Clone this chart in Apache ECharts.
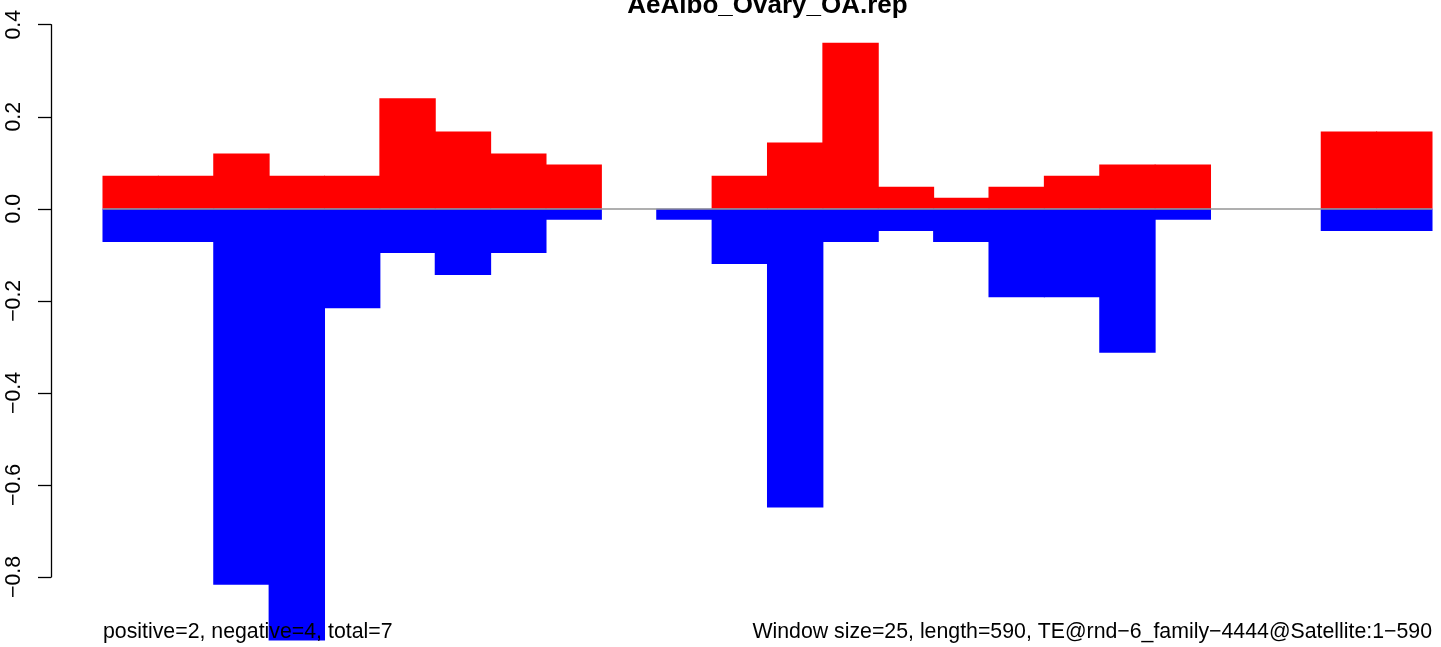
<!DOCTYPE html>
<html>
<head>
<meta charset="utf-8">
<script src="https://cdn.jsdelivr.net/npm/echarts@6/dist/echarts.min.js"></script>
<style>
  html, body { margin: 0; padding: 0; background: #ffffff; }
  #chart { width: 1441px; height: 647px; }
</style>
</head>
<body>
<div id="chart"></div>
<script>
// ---- data ----
const windows = ['1','2','3','4','5','6','7','8','9','10','11','12','13','14','15','16','17','18','19','20','21','22','23','24'];
const positiveValues = [0.072,0.072,0.120,0.072,0.072,0.240,0.168,0.120,0.096,0,0,0.072,0.144,0.361,0.048,0.024,0.048,0.072,0.096,0.096,0,0,0.168,0.168];
const negativeValues = [-0.072,-0.072,-0.817,-0.938,-0.216,-0.096,-0.144,-0.096,-0.024,0,-0.024,-0.120,-0.649,-0.072,-0.048,-0.072,-0.192,-0.192,-0.313,-0.024,0,0,-0.048,-0.048];
const yTickValues = [-0.8,-0.6,-0.4,-0.2,0.0,0.2,0.4];
const yTickLabels = ['\u22120.8','\u22120.6','\u22120.4','\u22120.2','0.0','0.2','0.4'];
const titleText = 'AeAlbo_Ovary_OA.rep';
const leftNote = 'positive=2, negative=4, total=7';
const rightNote = 'Window size=25, length=590, TE@rnd\u22126_family\u22124444@Satellite:1\u2212590';

const FONT = "'Liberation Sans', Arial, Helvetica, sans-serif";
const chart = echarts.init(document.getElementById('chart'), null, { renderer: 'canvas' });

function tickLabel(v) {
  for (let i = 0; i < yTickValues.length; i++) {
    if (Math.abs(yTickValues[i] - v) < 1e-6) return yTickLabels[i];
  }
  return '';
}

// empty windows draw no bar at all
const toBarData = arr => arr.map(v => (v === 0 ? null : v));

chart.setOption({
  animation: false,
  backgroundColor: '#ffffff',
  grid: { left: 103, right: 9, top: 24.7, bottom: 70, containLabel: false },
  xAxis: {
    type: 'category',
    data: windows,
    show: false,
    boundaryGap: true
  },
  yAxis: {
    type: 'value',
    min: -0.8,
    max: 0.4,
    interval: 0.2,
    offset: 52,
    splitLine: { show: false },
    axisLine: { show: true, onZero: false, lineStyle: { color: '#000000', width: 1.3 } },
    axisTick: { show: true, inside: false, length: 13, lineStyle: { color: '#000000', width: 1.3 } },
    axisLabel: {
      show: true,
      rotate: 90,
      margin: 26,
      showMinLabel: true,
      showMaxLabel: true,
      color: '#000000',
      fontFamily: FONT,
      fontSize: 21.3,
      formatter: tickLabel
    }
  },
  series: [
    {
      name: 'zero',
      type: 'line',
      data: [],
      z: 1,
      silent: true,
      markLine: {
        silent: true,
        symbol: ['none', 'none'],
        label: { show: false },
        lineStyle: { color: '#949494', width: 1.5, type: 'solid' },
        data: [{ yAxis: 0 }]
      }
    },
    {
      name: 'positive',
      type: 'bar',
      data: toBarData(positiveValues),
      barWidth: 56.4,
      barGap: '-100%',
      barCategoryGap: 0,
      clip: false,
      itemStyle: { color: '#ff0000' },
      z: 3,
      silent: true
    },
    {
      name: 'negative',
      type: 'bar',
      data: toBarData(negativeValues),
      barWidth: 56.4,
      barGap: '-100%',
      barCategoryGap: 0,
      clip: false,
      itemStyle: { color: '#0000ff' },
      z: 3,
      silent: true
    }
  ],
  graphic: [
    {
      type: 'text',
      z: 100,
      style: {
        text: titleText,
        x: 767.5,
        y: 5.7,
        textAlign: 'center',
        textVerticalAlign: 'middle',
        font: "bold 26px " + FONT,
        fill: '#000000'
      }
    },
    {
      type: 'text',
      z: 100,
      style: {
        text: leftNote,
        x: 103,
        y: 632.5,
        textAlign: 'left',
        textVerticalAlign: 'middle',
        font: "21.3px " + FONT,
        fill: '#000000'
      }
    },
    {
      type: 'text',
      z: 100,
      style: {
        text: rightNote,
        x: 1432,
        y: 632.5,
        textAlign: 'right',
        textVerticalAlign: 'middle',
        font: "21.3px " + FONT,
        fill: '#000000'
      }
    }
  ]
});
</script>
</body>
</html>
